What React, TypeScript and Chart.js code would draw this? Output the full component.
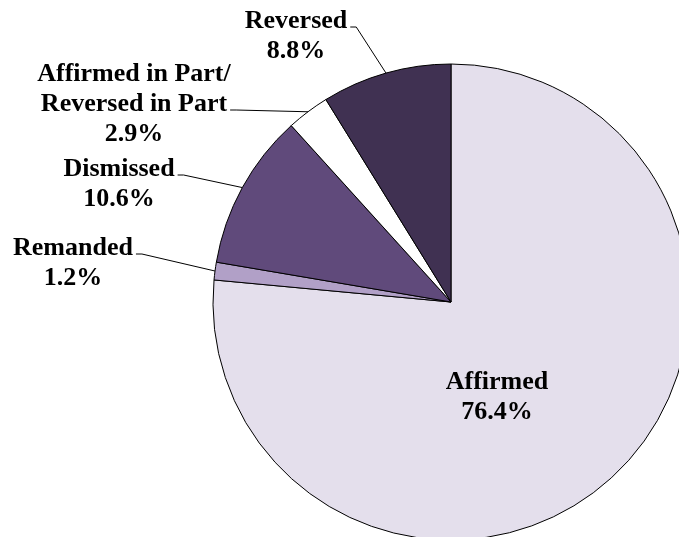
import { useEffect, useRef } from 'react';
import { Chart, registerables } from 'chart.js';

Chart.register(...registerables);

// ---- data ----
const categories = ['Affirmed', 'Remanded', 'Dismissed', 'Affirmed in Part/Reversed in Part', 'Reversed'];
const values = [76.4, 1.2, 10.6, 2.9, 8.8];
const labelNameLines = [['Affirmed'], ['Remanded'], ['Dismissed'], ['Affirmed in Part/', 'Reversed in Part'], ['Reversed']];
const sliceColors = ['#E4DFEC', '#B1A0C7', '#604A7B', '#FFFFFF', '#403152'];

// ---- label layout (relative to pie centre) ----
const labelDx = [46, -378, -332, -317, -155];
const labelDy = [87, -47, -126, -221, -274];
const leaderLineIndex = [-1, 0, 0, 1, 0]; // -1 = no leader

const FONT = 'bold 26px "Liberation Serif", "Times New Roman", serif';
const LINE_H = 30;

export default function App() {
  const ref = useRef<HTMLCanvasElement>(null);

  useEffect(() => {
    if (!ref.current) return;
    const labelPlugin = {
      id: 'pieLabels',
      afterDatasetsDraw(chart: any) {
        const ctx = chart.ctx as CanvasRenderingContext2D;
        const meta = chart.getDatasetMeta(0);
        ctx.save();
        ctx.font = FONT;
        ctx.fillStyle = '#000';
        ctx.textAlign = 'center';
        ctx.textBaseline = 'alphabetic';
        meta.data.forEach((arc: any, i: number) => {
          const p = arc.getProps(['x', 'y', 'startAngle', 'endAngle', 'outerRadius'], true);
          const lines = [...labelNameLines[i], values[i].toFixed(1) + '%'];
          const bx = p.x + labelDx[i];
          const by = p.y + labelDy[i];
          lines.forEach((t, k) => ctx.fillText(t, bx, by + k * LINE_H));
          const li = leaderLineIndex[i];
          if (li >= 0) {
            const w = ctx.measureText(lines[li]).width;
            const sx = bx + w / 2 + 3;
            const sy = by + li * LINE_H - 1;
            const mid = (p.startAngle + p.endAngle) / 2;
            const ex = p.x + Math.cos(mid) * p.outerRadius;
            const ey = p.y + Math.sin(mid) * p.outerRadius;
            ctx.beginPath();
            ctx.strokeStyle = '#000';
            ctx.lineWidth = 1;
            ctx.moveTo(sx, sy);
            ctx.lineTo(sx + 6, sy);
            ctx.lineTo(ex, ey);
            ctx.stroke();
          }
        });
        ctx.restore();
      },
    };

    const chart = new Chart(ref.current, {
      type: 'pie',
      data: {
        labels: categories,
        datasets: [
          {
            data: values,
            backgroundColor: sliceColors,
            borderColor: '#000',
            borderWidth: 1,
            clip: false as any,
          },
        ],
      },
      options: {
        responsive: false,
        animation: false,
        radius: 238,
        layout: { padding: { left: 223, right: 0, top: 67, bottom: 0 } },
        plugins: {
          legend: { display: false },
          tooltip: { enabled: false },
        },
      } as any,
      plugins: [labelPlugin],
    });
    return () => chart.destroy();
  }, []);

  return (
    <div style={{ position: 'absolute', left: 0, top: 0, width: 679, height: 537, background: '#fff' }}>
      <canvas ref={ref} width={679} height={537} style={{ display: 'block' }} />
    </div>
  );
}
